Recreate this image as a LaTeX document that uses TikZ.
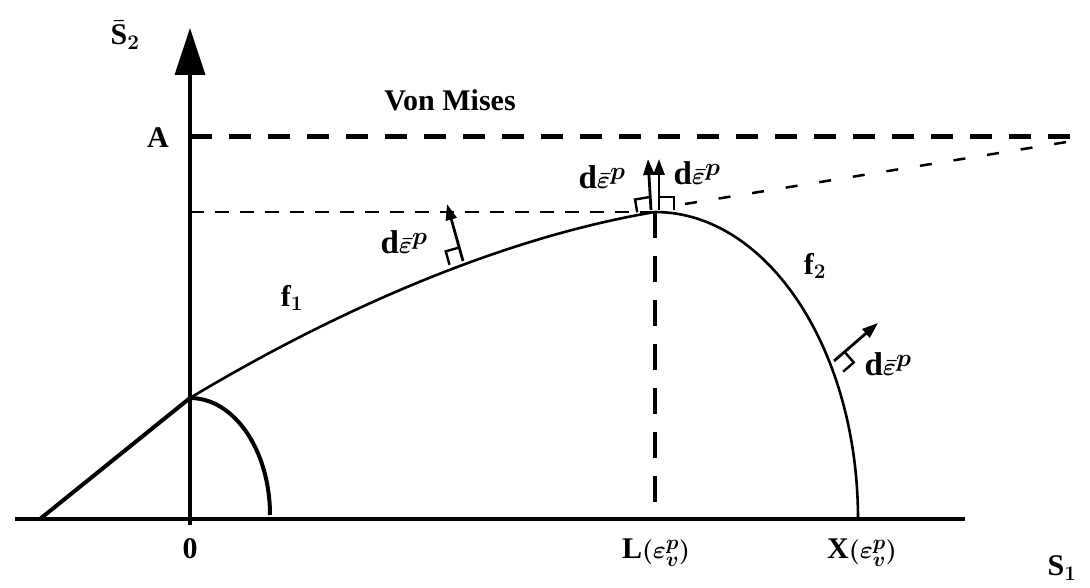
\documentclass[tikz,border=0pt]{standalone}
\usepackage{fontspec}
\setmainfont{Liberation Serif}
\usetikzlibrary{arrows.meta}
\begin{document}
\begin{tikzpicture}[x=1pt,y=1pt,
  lbl/.style={font=\fontsize{30}{34}\selectfont\bfseries\boldmath, inner sep=0pt},
  dlbl/.style={font=\fontsize{33}{36}\selectfont\bfseries\boldmath, inner sep=0pt},
  axisline/.style={line width=3.5pt},
  fcurve/.style={line width=2.6pt},
  fthick/.style={line width=4pt},
  normalvec/.style={line width=2.8pt,-{Triangle[length=16pt,width=11pt]}},
  rightangle/.style={line width=2.4pt},
  dashA/.style={line width=5pt, dash pattern=on 22pt off 17pt},
  dashB/.style={line width=2.5pt, dash pattern=on 14pt off 11pt},
  dashC/.style={line width=2.5pt, dash pattern=on 12pt off 22pt},
  dashV/.style={line width=3.5pt, dash pattern=on 26pt off 18pt},
]
\useasboundingbox (0,0) rectangle (1090,587);

% key points
\coordinate (O) at (190,68);
\coordinate (Ybot) at (190,62);
\coordinate (Ytip) at (190,559);
\coordinate (Xl) at (15,68);
\coordinate (Xr) at (965,68);
\coordinate (K) at (40,68);
\coordinate (J) at (190,189);
\coordinate (P) at (655,375);
\coordinate (Lp) at (655,68);
\coordinate (A0) at (190,450);
\coordinate (A1) at (1085,450);
\coordinate (H0) at (190,375);
\coordinate (S0) at (685,383);
\coordinate (S1) at (1085,448);

% axes
\draw[line width=4pt] (Xl) -- (Xr);
\draw[axisline,-{Triangle[length=47pt,width=30pt]}] (Ybot) -- (Ytip);

% dashed guide lines
\draw[dashA] (A0) -- (A1);
\draw[dashB] (H0) -- (P);
\draw[dashC] (S0) -- (S1);
\draw[dashV] (P) -- (Lp);

% yield curves
\draw[fthick] (K) -- (J);
\draw[fthick] (J) arc[start angle=90, end angle=0, x radius=80, y radius=117];
\draw[fcurve] (J) .. controls (340,279) and (505,350) .. (P);
\draw[fcurve] (P) arc[start angle=90, end angle=0, x radius=203, y radius=307];

% normal vectors with right-angle marks
\coordinate (B1) at (463,326);
\coordinate (T1) at (447,383);
\draw[normalvec] (B1) -- (T1);
\draw[rightangle, shift={(B1)}, rotate=105.8] (14,0) -- (14,14) -- (0,14);

\coordinate (B2) at (651,377);
\coordinate (T2) at (648,428);
\draw[normalvec] (B2) -- (T2);
\draw[rightangle, shift={(B2)}, rotate=99.5] (13,0) -- (13,14) -- (0,14);

\coordinate (B3) at (659,377);
\coordinate (T3) at (659,428);
\draw[normalvec] (B3) -- (T3);
\draw[rightangle, shift={(B3)}, rotate=90] (13,0) -- (13,-15) -- (0,-15);

\coordinate (B4) at (834,226);
\coordinate (T4) at (878,264);
\draw[normalvec] (B4) -- (T4);
\draw[rightangle, shift={(B4)}, rotate=40.7] (14,0) -- (14,-14) -- (0,-14);

% labels
\node[lbl] (s2) at (125,552) {$\bar{\mathrm{S}}_2$};
\node[lbl] (lA) at (158,449) {A};
\node[lbl] (vm) at (450,487) {Von Mises};
\node[lbl] (l0) at (190,38) {0};
\node[lbl] (lL) at (656,34) {L$\big(\varepsilon_v^p\big)$};
\node[lbl] (lX) at (862,34) {X$\big(\varepsilon_v^p\big)$};
\node[lbl] (s1) at (1062,19) {$\mathrm{S}_1$};
\node[lbl] (f1) at (292,289) {$\mathrm{f}_1$};
\node[lbl] (f2) at (815,321) {$\mathrm{f}_2$};
\node[dlbl] (d1) at (404,345) {$\mathrm{d}\bar{\varepsilon}^p$};
\node[dlbl] (d2) at (602,410) {$\mathrm{d}\bar{\varepsilon}^p$};
\node[dlbl] (d3) at (697,414) {$\mathrm{d}\bar{\varepsilon}^p$};
\node[dlbl] (d4) at (888,223) {$\mathrm{d}\bar{\varepsilon}^p$};
\end{tikzpicture}
\end{document}
